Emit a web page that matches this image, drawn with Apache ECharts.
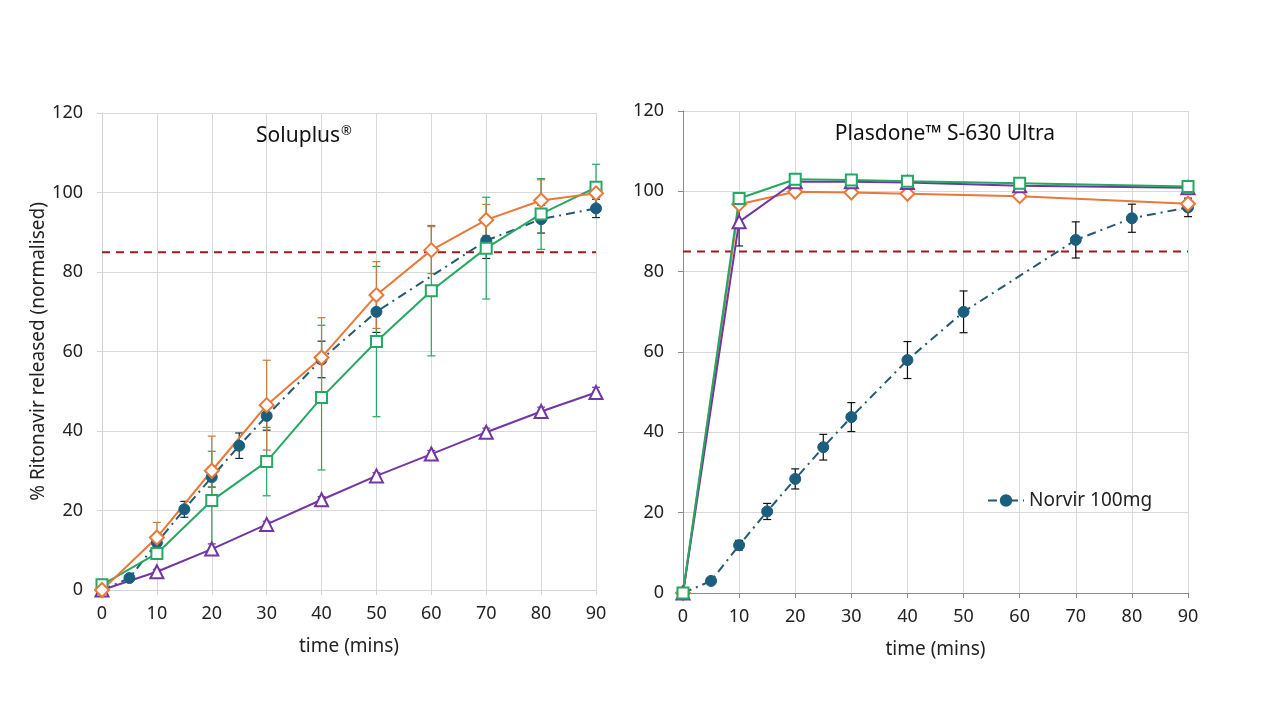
<!DOCTYPE html>
<html>
<head>
<meta charset="utf-8">
<script src="https://cdn.jsdelivr.net/npm/echarts@6/dist/echarts.min.js"></script>
<style>html,body{margin:0;padding:0;background:#fff}#c{width:1280px;height:720px}</style>
</head>
<body>
<div id="c"></div>
<script>
// ---- data ----
const xTicks = [0, 10, 20, 30, 40, 50, 60, 70, 80, 90];
const yTicks = [0, 20, 40, 60, 80, 100, 120];
const threshold = 85;

// Norvir 100mg (reference, both panels)
const norvirTime = [0, 5, 10, 15, 20, 25, 30, 40, 50, 70, 80, 90];
const norvirMean = [0, 3.0, 11.9, 20.3, 28.4, 36.3, 43.8, 58.0, 70.0, 87.9, 93.3, 96.0];
const norvirErr  = [0, 0.4, 1.2, 2.0, 2.5, 3.2, 3.6, 4.6, 5.2, 4.5, 3.5, 2.3];

// Soluplus panel
const soluTime = [0, 10, 20, 30, 40, 50, 60, 70, 80, 90];
const soluOrange = [0, 13.2, 30.0, 46.5, 58.5, 74.2, 85.5, 93.1, 98.0, 99.8];
const soluOrangeErr = [0, 3.8, 8.7, 11.3, 10.0, 8.4, 5.9, 3.9, 5.2, 1.0];
const soluGreen = [1.3, 9.2, 22.5, 32.3, 48.4, 62.5, 75.3, 86.0, 94.6, 101.3];
const soluGreenErr = [0, 1.0, 12.4, 8.6, 18.2, 18.9, 16.4, 12.8, 8.9, 5.8];
const soluPurple = [0, 4.6, 10.3, 16.5, 22.7, 28.7, 34.2, 39.7, 44.9, 49.7];
const soluPurpleErr = [0, 0.6, 1.3, 0.8, 0.8, 0.8, 0.9, 1.0, 1.1, 1.3];

// Plasdone panel
const plasTime = [0, 10, 20, 30, 40, 60, 90];
const plasOrange = [0, 96.8, 99.9, 99.7, 99.4, 98.8, 96.9];
const plasOrangeErr = [0, 0.8, 0.5, 0.5, 0.5, 0.6, 0.8];
const plasGreen = [0, 98.2, 103.0, 102.8, 102.5, 102.0, 101.2];
const plasGreenErr = [0, 0.6, 0.5, 0.5, 0.5, 0.5, 0.5];
const plasPurple = [0, 92.4, 102.4, 102.4, 102.2, 101.4, 100.9];
const plasPurpleErr = [0, 6.0, 0.6, 0.5, 0.5, 0.6, 0.6];

// ---- styling ----
const FONT = 'Noto Sans';
const C_NORVIR = '#1b5e7e';
const C_NORVIR_LINE = '#245a6e';
const C_ORANGE = '#e8793a';
const C_ORANGE_ERR = '#c07a3e';
const C_GREEN = '#25a862';
const C_PURPLE = '#7335a3';
const C_RED = '#9c1a1e';

function pairs(xs, ys) { return xs.map((x, i) => [x, ys[i]]); }
function errData(xs, ys, es) { return xs.map((x, i) => [x, ys[i] - es[i], ys[i] + es[i]]); }

function errSeries(idx, xs, ys, es, color) {
  return {
    type: 'custom', xAxisIndex: idx, yAxisIndex: idx, z: 3, silent: true,
    data: errData(xs, ys, es),
    encode: { x: 0, y: [1, 2] },
    renderItem: function (params, api) {
      const lo = api.coord([api.value(0), api.value(1)]);
      const hi = api.coord([api.value(0), api.value(2)]);
      const w = 4;
      const st = { stroke: color, lineWidth: 1.2 };
      return { type: 'group', children: [
        { type: 'line', shape: { x1: lo[0], y1: lo[1], x2: hi[0], y2: hi[1] }, style: st },
        { type: 'line', shape: { x1: lo[0]-w, y1: lo[1], x2: lo[0]+w, y2: lo[1] }, style: st },
        { type: 'line', shape: { x1: hi[0]-w, y1: hi[1], x2: hi[0]+w, y2: hi[1] }, style: st }
      ]};
    }
  };
}

function lineSeries(idx, name, xs, ys, color, symbol, size, filled, lineType, lineColor) {
  return {
    type: 'line', name: name, xAxisIndex: idx, yAxisIndex: idx, z: 4,
    data: pairs(xs, ys), symbol: symbol, symbolSize: size, showSymbol: true,
    lineStyle: { color: lineColor || color, width: 2, type: lineType || 'solid' },
    itemStyle: filled ? { color: color, borderColor: color, borderWidth: 1 }
                      : { color: '#fff', borderColor: color, borderWidth: 2 },
    emphasis: { disabled: true }, animation: false
  };
}

function thresholdSeries(idx) {
  return {
    type: 'line', xAxisIndex: idx, yAxisIndex: idx, z: 2, silent: true,
    data: [[0, threshold], [90, threshold]], symbol: 'none',
    lineStyle: { color: C_RED, width: 2, type: [8, 6] }, animation: false
  };
}

function xAxisCfg(idx, dark) {
  return {
    type: 'value', gridIndex: idx, min: 0, max: 90, interval: 10,
    name: 'time (mins)', nameLocation: 'middle', nameGap: 47,
    nameTextStyle: { fontFamily: FONT, fontSize: 19, color: '#222' },
    axisLine: { show: true, onZero: false, lineStyle: { color: dark ? '#8c8c8c' : '#d4d4d4', width: 1 } },
    axisTick: { show: true, length: 5, lineStyle: { color: dark ? '#8c8c8c' : '#d4d4d4' } },
    axisLabel: { fontFamily: FONT, fontSize: 18, color: '#222', margin: 15 },
    splitLine: { show: true, lineStyle: { color: '#d9d9d9', width: 1 } }
  };
}
function yAxisCfg(idx, dark, withName) {
  return {
    type: 'value', gridIndex: idx, min: 0, max: 120, interval: 20,
    name: withName ? '% Ritonavir released (normalised)' : '',
    nameLocation: 'middle', nameGap: 48, nameRotate: 90,
    nameTextStyle: { fontFamily: FONT, fontSize: 19, color: '#222' },
    axisLine: { show: true, lineStyle: { color: dark ? '#8c8c8c' : '#d4d4d4', width: 1 } },
    axisTick: { show: true, length: 5, lineStyle: { color: dark ? '#8c8c8c' : '#d4d4d4' } },
    axisLabel: { fontFamily: FONT, fontSize: 18, color: '#222', margin: 19 },
    splitLine: { show: true, lineStyle: { color: '#d9d9d9', width: 1 } }
  };
}

const series = [
  // left panel
  thresholdSeries(0),
  errSeries(0, norvirTime, norvirMean, norvirErr, '#1a2a33'),
  errSeries(0, soluTime, soluPurple, soluPurpleErr, C_PURPLE),
  errSeries(0, soluTime, soluGreen, soluGreenErr, C_GREEN),
  errSeries(0, soluTime, soluOrange, soluOrangeErr, C_ORANGE_ERR),
  lineSeries(0, 'Norvir 100mg', norvirTime, norvirMean, C_NORVIR, 'circle', 11, true, [9, 5, 2, 5], C_NORVIR_LINE),
  lineSeries(0, 'Soluplus purple', soluTime, soluPurple, C_PURPLE, 'triangle', 13, false),
  lineSeries(0, 'Soluplus green', soluTime, soluGreen, C_GREEN, 'rect', 11, false),
  lineSeries(0, 'Soluplus orange', soluTime, soluOrange, C_ORANGE, 'diamond', 14, false),
  // right panel
  thresholdSeries(1),
  errSeries(1, norvirTime, norvirMean, norvirErr, '#111'),
  errSeries(1, plasTime, plasPurple, plasPurpleErr, '#222'),
  errSeries(1, plasTime, plasGreen, plasGreenErr, C_GREEN),
  errSeries(1, plasTime, plasOrange, plasOrangeErr, C_ORANGE_ERR),
  lineSeries(1, 'Norvir 100mg', norvirTime, norvirMean, C_NORVIR, 'circle', 11, true, [9, 5, 2, 5], C_NORVIR_LINE),
  lineSeries(1, 'Plasdone orange', plasTime, plasOrange, C_ORANGE, 'diamond', 14, false),
  lineSeries(1, 'Plasdone purple', plasTime, plasPurple, C_PURPLE, 'triangle', 13, false),
  lineSeries(1, 'Plasdone green', plasTime, plasGreen, C_GREEN, 'rect', 11, false)
];

const chart = echarts.init(document.getElementById('c'), null, { renderer: 'canvas' });
chart.setOption({
  backgroundColor: '#fff',
  animation: false,
  title: [
    { text: 'Soluplus{sup|®}', left: 299, top: 120, textAlign: 'center',
      textStyle: { fontFamily: FONT, fontSize: 21, fontWeight: 'normal', color: '#111',
        rich: { sup: { fontFamily: FONT, fontSize: 13, color: '#111', padding: [0, 0, 9, 1] } } } },
    { text: 'Plasdone™ S-630 Ultra', left: 940, top: 119, textAlign: 'center',
      textStyle: { fontFamily: FONT, fontSize: 21, fontWeight: 'normal', color: '#111' } }
  ],
  legend: {
    data: ['Norvir 100mg'], left: 982, top: 486, itemWidth: 36, itemHeight: 13, itemGap: 6,
    textStyle: { fontFamily: FONT, fontSize: 19, color: '#222' }
  },
  grid: [
    { left: 102, right: 684, top: 113, bottom: 130 },
    { left: 683, right: 92, top: 111, bottom: 127 }
  ],
  xAxis: [xAxisCfg(0, false), xAxisCfg(1, true)],
  yAxis: [yAxisCfg(0, false, true), yAxisCfg(1, true, false)],
  series: series
});
</script>
</body>
</html>
